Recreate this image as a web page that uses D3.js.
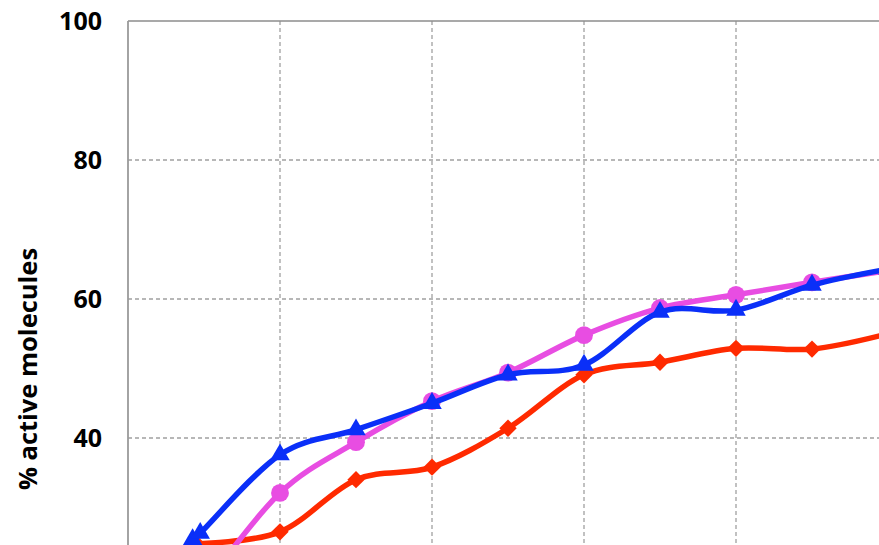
<!DOCTYPE html>
<html lang="en">
<head>
  <meta charset="UTF-8">
  <title>% active molecules</title>
  <script src="https://d3js.org/d3.v7.min.js"></script>
  <style>
    body {
      margin: 0;
      background: #fff;
      overflow: hidden;
    }
    svg {
      display: block;
      font-family: "Open Sans", sans-serif;
    }
    .tick-label {
      font-size: 25px;
      font-weight: 700;
      fill: #000;
    }
    .axis-title {
      font-size: 25.5px;
      font-weight: 700;
      fill: #000;
    }
  </style>
</head>
<body>
<div id="chart"></div>

<script>
  // y ticks shown on the left
  var yTicks = [40, 60, 80, 100];
  var gridY = [20, 40, 60, 80];
  var gridX = [2, 4, 6, 8];

  // time positions and values per series
  var redT  = [0.9, 2, 3, 4, 5, 6, 7, 8, 9, 10];
  var redV  = [24.8, 26.5, 34.0, 35.8, 41.4, 49.1, 50.9, 52.9, 52.8, 55.0];

  var pinkT = [1, 2, 3, 4, 5, 6, 7, 8, 9, 10];
  var pinkV = [18.6, 32.1, 39.4, 45.3, 49.4, 54.8, 58.7, 60.6, 62.4, 64.1];

  var blueT = [0.85, 0.95, 2, 3, 4, 5, 6, 7, 8, 9, 10];
  var blueV = [25.4, 26.3, 37.6, 41.2, 45.0, 49.1, 50.5, 58.1, 58.4, 62.0, 64.3];

  var width = 879, height = 545;

  var svg = d3.select("#chart").append("svg")
    .attr("width", width)
    .attr("height", height);

  var x = d3.scaleLinear().domain([0, 10]).range([128, 888]);
  var y = d3.scaleLinear().domain([0, 100]).range([716, 21]);

  // grid
  svg.append("g").selectAll("line")
    .data(gridY)
    .enter().append("line")
    .attr("x1", x(0)).attr("x2", width + 20)
    .attr("y1", d => y(d)).attr("y2", d => y(d))
    .attr("stroke", "#a0a0a0")
    .attr("stroke-width", 1.3)
    .attr("stroke-dasharray", "4,3");

  svg.append("g").selectAll("line")
    .data(gridX)
    .enter().append("line")
    .attr("x1", d => x(d)).attr("x2", d => x(d))
    .attr("y1", y(100)).attr("y2", height + 20)
    .attr("stroke", "#a0a0a0")
    .attr("stroke-width", 1.3)
    .attr("stroke-dasharray", "4,3");

  // top border and left axis
  svg.append("line")
    .attr("x1", x(0)).attr("x2", width + 20)
    .attr("y1", y(100)).attr("y2", y(100))
    .attr("stroke", "#8c8c8c").attr("stroke-width", 1.5);
  svg.append("line")
    .attr("x1", x(0)).attr("x2", x(0))
    .attr("y1", y(100)).attr("y2", height + 20)
    .attr("stroke", "#9a9a9a").attr("stroke-width", 1.8);

  // y tick labels
  svg.append("g").selectAll("text")
    .data(yTicks)
    .enter().append("text")
    .attr("class", "tick-label")
    .attr("x", 102)
    .attr("y", d => y(d))
    .attr("dy", "0.36em")
    .attr("text-anchor", "end")
    .text(d => d);

  svg.append("text")
    .attr("class", "axis-title")
    .attr("transform", "translate(37,369) rotate(-90)")
    .attr("text-anchor", "middle")
    .text("% active molecules");

  var line = d3.line()
    .x(d => x(d.t))
    .y(d => y(d.v))
    .curve(d3.curveCatmullRom.alpha(0));

  function zip(ts, vs) {
    return ts.map((t, i) => ({ t: t, v: vs[i] }));
  }

  var series = [
    { name: "red",  color: "#ff2a00", data: zip(redT, redV),
      symbol: d3.symbol().type(d3.symbolSquare).size(150), rot: 45 },
    { name: "pink", color: "#e84de2", data: zip(pinkT, pinkV),
      symbol: d3.symbol().type(d3.symbolCircle).size(250), rot: 0 },
    { name: "blue", color: "#0a2ff8", data: zip(blueT, blueV),
      symbol: d3.symbol().type(d3.symbolTriangle).size(165), rot: 0 }
  ];

  series.forEach(function(s) {
    var g = svg.append("g");
    g.append("path")
      .datum(s.data)
      .attr("fill", "none")
      .attr("stroke", s.color)
      .attr("stroke-width", 5.5)
      .attr("stroke-linejoin", "round")
      .attr("d", line);

    g.selectAll("path.mark")
      .data(s.data)
      .enter().append("path")
      .attr("class", "mark")
      .attr("d", s.symbol)
      .attr("fill", s.color)
      .attr("transform", d => "translate(" + x(d.t) + "," + y(d.v) + ") rotate(" + s.rot + ")");
  });
</script>
</body>
</html>
